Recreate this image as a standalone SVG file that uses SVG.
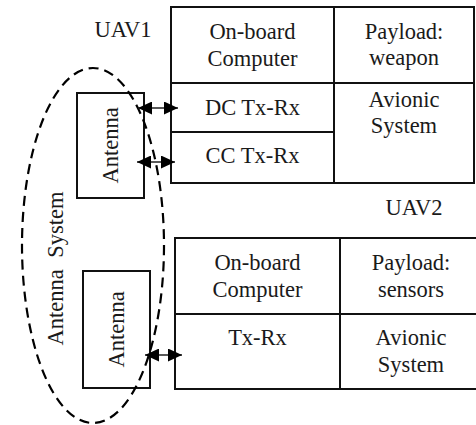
<svg xmlns="http://www.w3.org/2000/svg" width="476" height="425" viewBox="0 0 476 425">
<style>
.box{fill:#fff;stroke:#111;stroke-width:2}
.div{stroke:#111;stroke-width:2;fill:none}
.t{font-family:'Liberation Serif','Times New Roman','DejaVu Serif',serif;font-size:22.5px;fill:#1a1a1a;text-anchor:middle}
.conn{stroke:#222;stroke-width:1.5;fill:none;marker-start:url(#ah);marker-end:url(#ah)}
.dash{fill:none;stroke:#000;stroke-width:2.2;stroke-dasharray:10 6}
</style>
<defs>
<marker id="ah" viewBox="0 0 14 13" refX="14" refY="6.5" markerWidth="14" markerHeight="13" markerUnits="userSpaceOnUse" orient="auto-start-reverse">
<path d="M0,0 L14,6.5 L0,13 z" fill="#000"/>
</marker>
</defs>
<rect width="476" height="425" fill="#fff"/>

<g id="uav1" font-family="Liberation Serif, serif">
<text class="t" x="123" y="37">UAV1</text>
<rect class="box" x="171" y="7" width="303" height="176"/>
<line class="div" x1="334" y1="7" x2="334" y2="183"/>
<line class="div" x1="171" y1="83" x2="474" y2="83"/>
<line class="div" x1="171" y1="132" x2="334" y2="132"/>
<text class="t" x="252.5" y="39">On-board</text>
<text class="t" x="252.5" y="66">Computer</text>
<text class="t" x="404" y="39">Payload:</text>
<text class="t" x="404" y="65">weapon</text>
<text class="t" x="252.5" y="115">DC Tx-Rx</text>
<text class="t" x="252.5" y="163">CC Tx-Rx</text>
<text class="t" x="404" y="107">Avionic</text>
<text class="t" x="404" y="133">System</text>
</g>

<g id="uav2">
<text class="t" x="414" y="215">UAV2</text>
<rect class="box" x="175" y="238" width="304" height="151"/>
<line class="div" x1="340" y1="238" x2="340" y2="389"/>
<line class="div" x1="175" y1="314" x2="478" y2="314"/>
<text class="t" x="257.5" y="270">On-board</text>
<text class="t" x="257.5" y="297">Computer</text>
<text class="t" x="411" y="270">Payload:</text>
<text class="t" x="411" y="297">sensors</text>
<text class="t" x="257.5" y="345">Tx-Rx</text>
<text class="t" x="411" y="345">Avionic</text>
<text class="t" x="411" y="372">System</text>
</g>

<g id="antenna1">
<rect class="box" x="77" y="93" width="67" height="105"/>
<text class="t" transform="translate(118,145.5) rotate(-90)">Antenna</text>
</g>

<g id="antenna2">
<rect class="box" x="83" y="271" width="67" height="117"/>
<text class="t" transform="translate(124,329.5) rotate(-90)">Antenna</text>
</g>

<g id="antenna-system">
<ellipse class="dash" cx="93" cy="245.5" rx="71" ry="177.5"/>
<text class="t" transform="translate(63,268.5) rotate(-90)" word-spacing="6">Antenna System</text>
</g>

<g id="connectors">
<line class="conn" x1="138" y1="108" x2="178" y2="108"/>
<line class="conn" x1="137" y1="162" x2="175" y2="162"/>
<line class="conn" x1="145" y1="355" x2="182" y2="355"/>
</g>
</svg>
